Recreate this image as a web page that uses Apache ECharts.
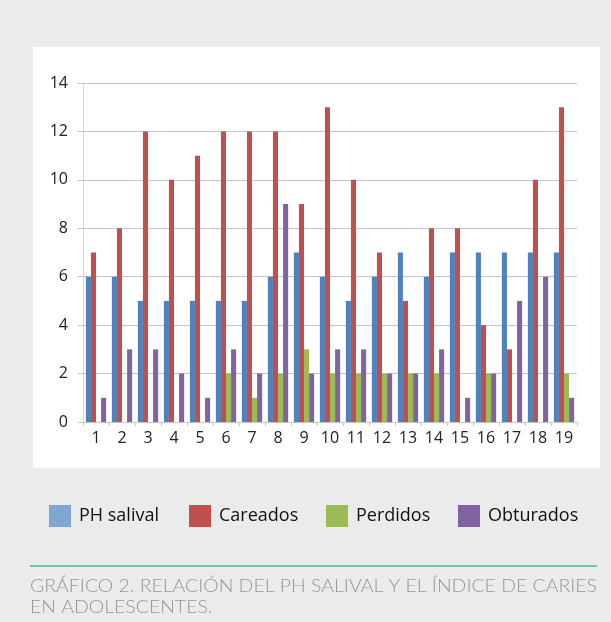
<!DOCTYPE html>
<html><head><meta charset="utf-8">
<script src="https://cdn.jsdelivr.net/npm/echarts@6/dist/echarts.min.js"></script>
<style>html,body{margin:0;padding:0;background:#ebebeb;}#c{width:611px;height:622px;}</style>
</head><body><div id="c"></div>
<script>
const categories = ['1','2','3','4','5','6','7','8','9','10','11','12','13','14','15','16','17','18','19'];
const phSalival = [6,6,5,5,5,5,5,6,7,6,5,6,7,6,7,7,7,7,7];
const careados  = [7,8,12,10,11,12,12,12,9,13,10,7,5,8,8,4,3,10,13];
const perdidos  = [0,0,0,0,0,2,1,2,3,2,2,2,2,2,0,2,0,0,2];
const obturados = [1,3,3,2,1,3,2,9,2,3,3,2,2,3,1,2,5,6,1];
const seriesNames = ['PH salival','Careados','Perdidos','Obturados'];
const yTicks = [0,2,4,6,8,10,12,14];
const captionLines = ['GRÁFICO 2. RELACIÓN DEL PH SALIVAL Y EL ÍNDICE DE CARIES','EN ADOLESCENTES.'];

const colors = ['#4f81bd','#c0504d','#9bbb59','#8064a2'];
const legendColors = ['#7ea6d2','#c0504d','#9bbb59','#8064a2'];
const legendLefts = [49,189,326,458];
const capFont = '300 18.5px Lato';
const cv = document.createElement('canvas').getContext('2d');
cv.font = capFont;
const w1 = cv.measureText(captionLines[0]).width;
const sx = 567 / w1;

const chart = echarts.init(document.getElementById('c'));
const data = [phSalival, careados, perdidos, obturados];
const axisFont = {color:'#222', fontSize:16, fontFamily:'Open Sans'};
chart.setOption({
  backgroundColor: '#ebebeb',
  animation: false,
  graphic: [
    {type:'rect', z:-10, shape:{x:33,y:47,width:567,height:421}, style:{fill:'#ffffff'}},
    {type:'line', shape:{x1:30,y1:566,x2:597,y2:566}, style:{stroke:'#4db39a',lineWidth:1.5}},
    {type:'text', x:30, y:586.5, scaleX:sx, style:{text:captionLines[0], fill:'#979797', font:capFont, verticalAlign:'middle'}},
    {type:'text', x:30, y:607.5, scaleX:sx, style:{text:captionLines[1], fill:'#979797', font:capFont, verticalAlign:'middle'}}
  ],
  legend: seriesNames.map((n,i)=>({
    top: 505, left: legendLefts[i], itemWidth: 22, itemHeight: 22, padding:0,
    icon: 'rect',
    textStyle: {fontFamily:'Open Sans', fontSize:18, color:'#111', padding:[0,0,0,3]},
    data: [{name:n, itemStyle:{color:legendColors[i]}}]
  })),
  grid: {left:83, right:34, top:83, bottom:200, containLabel:false},
  xAxis: {
    type:'category', data: categories,
    axisLine:{lineStyle:{color:'#c8c8c8'}},
    axisTick:{show:true, lineStyle:{color:'#c8c8c8'}, length:4},
    axisLabel:Object.assign({margin:8, interval:0}, axisFont)
  },
  yAxis: {
    type:'value', min:0, max:14, interval:2,
    axisLine:{show:true, lineStyle:{color:'#d4d4d4'}},
    axisTick:{show:true, length:5, lineStyle:{color:'#c8c8c8'}},
    splitLine:{lineStyle:{color:'#c4c4c4'}},
    axisLabel:Object.assign({margin:15, formatter: v => yTicks.includes(v) ? String(v) : ''}, axisFont)
  },
  series: seriesNames.map((n,i)=>({
    name:n, type:'bar', data:data[i], barGap:'0%', barCategoryGap:'22%',
    itemStyle:{color:colors[i]}
  }))
});
</script></body></html>
